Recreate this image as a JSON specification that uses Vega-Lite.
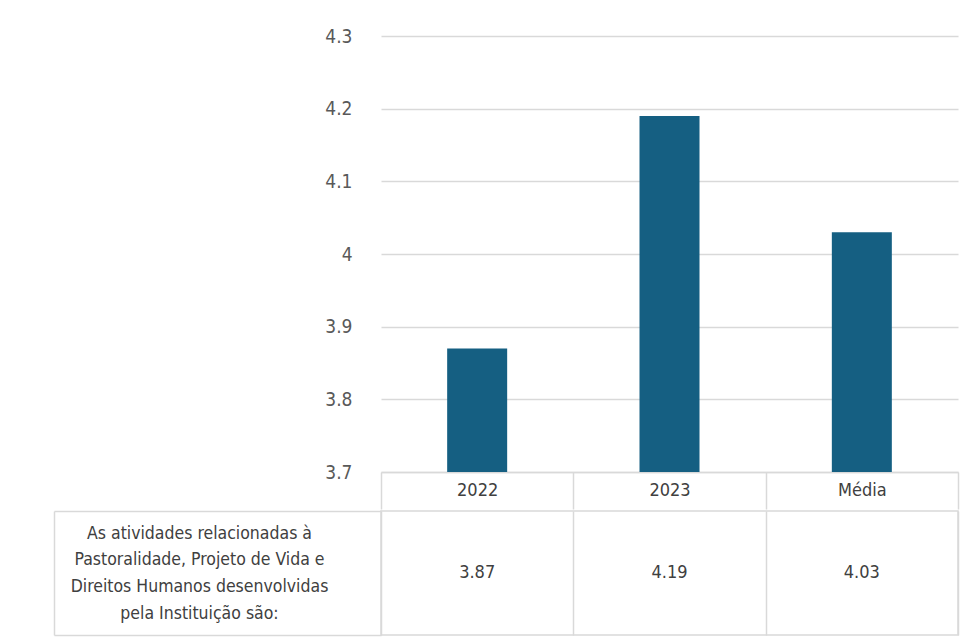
{
  "$schema": "https://vega.github.io/schema/vega-lite/v6.json",
  "padding": {"left": 52, "top": 27, "right": 5, "bottom": 5},
  "background": "white",
  "spacing": -9,
  "config": {
    "view": {"stroke": null},
    "font": "DejaVu Sans Condensed, Liberation Sans, sans-serif",
    "axis": {"labelFont": "DejaVu Sans Condensed, Liberation Sans, sans-serif"}
  },
  "vconcat": [
    {
      "width": 577,
      "height": 436,
      "data": {"values": [
        {"cat": "2022", "v": 3.87},
        {"cat": "2023", "v": 4.19},
        {"cat": "Média", "v": 4.03}
      ]},
      "mark": {"type": "bar", "color": "#155F82", "width": 60},
      "encoding": {
        "x": {
          "field": "cat", "type": "nominal", "sort": null,
          "scale": {"paddingInner": 0, "paddingOuter": 0},
          "axis": {
            "title": null, "labelAngle": 0,
            "domainColor": "#d9d9d9", "domainWidth": 1.5,
            "tickColor": "#d9d9d9", "tickWidth": 1.5, "tickSize": 37,
            "tickBand": "extent",
            "labelPadding": -18.5, "labelBaseline": "middle",
            "labelFontSize": 18, "labelColor": "#404040"
          }
        },
        "y": {
          "field": "v", "type": "quantitative",
          "scale": {"domain": [3.7, 4.3], "zero": false, "nice": false},
          "axis": {
            "title": null,
            "values": [3.7, 3.8, 3.9, 4.0, 4.1, 4.2, 4.3],
            "format": "~g",
            "domain": false, "ticks": false,
            "labelPadding": 29, "labelFontSize": 19, "labelColor": "#595959",
            "gridColor": "#d9d9d9", "gridWidth": 1.5
          }
        },
        "y2": {"datum": 3.7}
      }
    },
    {
      "width": 577,
      "height": 124,
      "view": {"stroke": "#d9d9d9", "strokeWidth": 1.5},
      "data": {"values": [
        {"row": "As atividades relacionadas à|Pastoralidade, Projeto de Vida e|Direitos Humanos desenvolvidas|pela Instituição são:", "cat": "2022", "v": 3.87},
        {"row": "As atividades relacionadas à|Pastoralidade, Projeto de Vida e|Direitos Humanos desenvolvidas|pela Instituição são:", "cat": "2023", "v": 4.19},
        {"row": "As atividades relacionadas à|Pastoralidade, Projeto de Vida e|Direitos Humanos desenvolvidas|pela Instituição são:", "cat": "Média", "v": 4.03}
      ]},
      "mark": {"type": "text", "fontSize": 18, "color": "#404040"},
      "encoding": {
        "x": {
          "field": "cat", "type": "nominal", "sort": null,
          "scale": {"paddingInner": 0, "paddingOuter": 0},
          "axis": {
            "title": null, "labels": false, "ticks": false, "domain": false,
            "grid": true, "gridColor": "#d9d9d9", "gridWidth": 1.5,
            "tickBand": "extent"
          }
        },
        "y": {
          "field": "row", "type": "nominal",
          "scale": {"paddingInner": 0, "paddingOuter": 0},
          "axis": {
            "title": null, "offset": 327,
            "domainColor": "#d9d9d9", "domainWidth": 1.5,
            "tickColor": "#d9d9d9", "tickWidth": 1.5, "tickSize": -327,
            "tickBand": "extent",
            "labelExpr": "split(datum.label, '|')",
            "labelAlign": "center", "labelBaseline": "middle",
            "labelPadding": 182, "labelLineHeight": 26.7, "labelOffset": -40,
            "labelFontSize": 17.5, "labelColor": "#404040", "labelLimit": 0
          }
        },
        "text": {"field": "v", "type": "quantitative", "format": ".2f"}
      }
    }
  ]
}
